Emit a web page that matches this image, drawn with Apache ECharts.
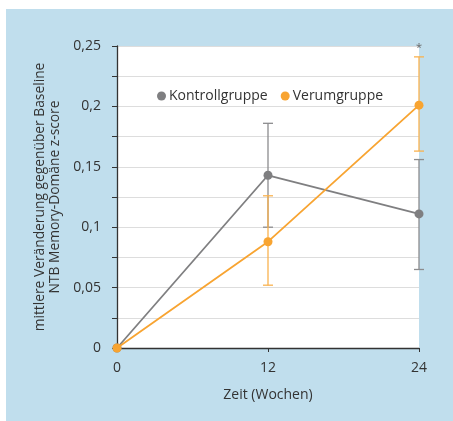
<!DOCTYPE html>
<html>
<head>
<meta charset="utf-8">
<script src="https://cdn.jsdelivr.net/npm/echarts@6/dist/echarts.min.js"></script>
<style>
  html, body { margin: 0; padding: 0; background: #fff; }
  #panel { position: absolute; left: 6px; top: 9px; width: 447px; height: 412px; background: #c0deed; }
  #chart { position: absolute; left: 0; top: 0; width: 453px; height: 421px; }
</style>
</head>
<body>
<div id="panel"></div>
<div id="chart"></div>
<script>
// Zeitpunkte in Wochen
const weeks = [0, 12, 24];
// Mittelwerte
const kontrolle = [0, 0.143, 0.111];
const verum = [0, 0.088, 0.201];
// Fehlerbalken (unten / oben)
const kontrolleLow = [null, 0.100, 0.065];
const kontrolleHigh = [null, 0.186, 0.156];
const verumLow = [null, 0.052, 0.163];
const verumHigh = [null, 0.126, 0.241];
// Signifikanz-Markierung
const signif = ['', '', '*'];

const grau = '#7f7f81';
const orange = '#f8a431';
const font = '"Open Sans", "Noto Sans", sans-serif';

function errorSeries(name, color, barColor, low, high, marks) {
    const data = weeks.map((w, i) => [w, low[i], high[i], marks ? marks[i] : '']);
    return {
        type: 'custom',
        name: name,
        z: 1,
        silent: true,
        itemStyle: {color: color},
        data: data.filter(d => d[1] != null),
        renderItem(params, api) {
            const x = api.value(0);
            const top = api.coord([x, api.value(2)]);
            const bot = api.coord([x, api.value(1)]);
            const w = 5;
            const style = {stroke: barColor, lineWidth: 1.3};
            const children = [
                {type: 'line', shape: {x1: top[0], y1: top[1], x2: bot[0], y2: bot[1]}, style},
                {type: 'line', shape: {x1: top[0] - w, y1: top[1], x2: top[0] + w, y2: top[1]}, style},
                {type: 'line', shape: {x1: bot[0] - w, y1: bot[1], x2: bot[0] + w, y2: bot[1]}, style}
            ];
            const mark = api.value(3);
            if (mark) {
                children.push({type: 'text', x: top[0], y: top[1] - 4, style: {
                    text: mark, fill: '#666', font: '11px ' + font, align: 'center', verticalAlign: 'bottom'
                }});
            }
            return {type: 'group', children};
        }
    };
}

const chart = echarts.init(document.getElementById('chart'));
chart.setOption({
    backgroundColor: 'transparent',
    animation: false,
    textStyle: {fontFamily: font},
    grid: {
        left: 117, right: 34, top: 46, bottom: 73,
        show: true, backgroundColor: '#fff', borderWidth: 0
    },
    legend: {
        top: 84, left: 152,
        icon: 'circle', itemWidth: 9, itemHeight: 9, itemGap: 13,
        textStyle: {fontSize: 14, color: '#333', fontFamily: font, padding: [0, 0, 0, -2]},
        data: ['Kontrollgruppe', 'Verumgruppe']
    },
    xAxis: {
        type: 'value', min: 0, max: 24, interval: 12,
        name: 'Zeit (Wochen)', nameLocation: 'middle', nameGap: 40,
        nameTextStyle: {fontSize: 14, color: '#333'},
        axisLine: {lineStyle: {color: '#333', width: 1.3}},
        axisTick: {show: true, length: 4, lineStyle: {color: '#333'}},
        axisLabel: {fontSize: 14, color: '#333', margin: 13},
        splitLine: {show: false}
    },
    yAxis: {
        type: 'value', min: 0, max: 0.25, interval: 0.05,
        name: 'mittlere Veränderung gegenüber Baseline\nNTB Memory-Domäne z-score',
        nameLocation: 'middle', nameGap: 50, nameRotate: 90,
        nameTextStyle: {fontSize: 13.8, color: '#333', lineHeight: 15},
        axisLine: {show: true, lineStyle: {color: '#333', width: 1.3}},
        axisTick: {show: true, length: 5, lineStyle: {color: '#333'}},
        minorTick: {show: true, splitNumber: 2, length: 5, lineStyle: {color: '#333'}},
        splitLine: {show: true, lineStyle: {color: '#ddd', width: 1}},
        minorSplitLine: {show: true, lineStyle: {color: '#ddd', width: 1}},
        axisLabel: {
            fontSize: 14, color: '#333', margin: 16,
            formatter: v => String(v).replace('.', ',')
        }
    },
    series: [
        errorSeries('Kontrollgruppe', grau, '#8c8c8e', kontrolleLow, kontrolleHigh, null),
        errorSeries('Verumgruppe', orange, '#f9b24f', verumLow, verumHigh, signif),
        {
            name: 'Kontrollgruppe', type: 'line', z: 3,
            data: weeks.map((w, i) => [w, kontrolle[i]]),
            symbol: 'circle', symbolSize: 9,
            itemStyle: {color: grau},
            lineStyle: {color: grau, width: 1.8}
        },
        {
            name: 'Verumgruppe', type: 'line', z: 4,
            data: weeks.map((w, i) => [w, verum[i]]),
            symbol: 'circle', symbolSize: 9,
            itemStyle: {color: orange},
            lineStyle: {color: orange, width: 1.8}
        }
    ]
});
</script>
</body>
</html>
